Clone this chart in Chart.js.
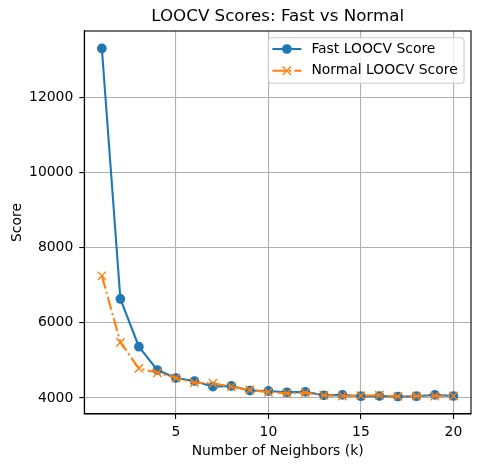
<!DOCTYPE html>
<html>
<head>
<meta charset="utf-8">
<script src="https://cdn.jsdelivr.net/npm/chart.js@4"></script>
<style>
  html, body { margin: 0; padding: 0; background: #fff; }
  canvas { display: block; }
</style>
</head>
<body>
<canvas id="chart" width="481" height="468"></canvas>
<script>
// values
const neighbors = [1, 2, 3, 4, 5, 6, 7, 8, 9, 10, 11, 12, 13, 14, 15, 16, 17, 18, 19, 20];
const fastScores = [13310, 6636, 5364, 4742, 4530, 4450, 4300, 4318, 4193, 4185,
                    4150, 4160, 4071, 4080, 4045, 4050, 4035, 4045, 4080, 4050];
const normalScores = [7253, 5478, 4787, 4670, 4530, 4405, 4390, 4300, 4212, 4150,
                      4124, 4140, 4071, 4050, 4062, 4070, 4040, 4050, 4050, 4050];
const xTicks = [5, 10, 15, 20];
const yTicks = [4000, 6000, 8000, 10000, 12000];

const titleText = 'LOOCV Scores: Fast vs Normal';
const fontFamily = '"DejaVu Sans", sans-serif';
const blue = '#1f77b4';
const orange = '#ff7f0e';

function toPoints(ys) {
  return neighbors.map((k, i) => ({ x: k, y: ys[i] }));
}

// title centred over the axes, plus top/right spines
const framePlugin = {
  id: 'frame',
  afterDatasetsDraw(chart) {
    const { ctx, chartArea: a } = chart;
    ctx.save();
    ctx.strokeStyle = '#000';
    ctx.lineWidth = 1.1;
    ctx.strokeRect(a.left, a.top, a.right - a.left, a.bottom - a.top);
    ctx.fillStyle = '#000';
    ctx.font = '16.7px ' + fontFamily;
    ctx.textAlign = 'center';
    ctx.textBaseline = 'middle';
    ctx.fillText(titleText, (a.left + a.right) / 2, 16.5);
    ctx.restore();
  }
};

// legend drawn inside the plot, upper right
const insideLegend = {
  id: 'insideLegend',
  afterDraw(chart) {
    const { ctx, chartArea: a } = chart;
    const sets = chart.data.datasets;
    ctx.save();
    ctx.font = '13.9px ' + fontFamily;
    const maxW = Math.max(...sets.map(d => ctx.measureText(d.label).width));
    const right = a.right - 7;
    const top = a.top + 6.7;
    const textX = right - 6.3 - maxW;
    const left = textX - 43;
    const bottom = top + 45.5;

    ctx.beginPath();
    ctx.roundRect(left, top, right - left, bottom - top, 2.8);
    ctx.fillStyle = 'rgba(255,255,255,0.8)';
    ctx.fill();
    ctx.strokeStyle = '#cccccc';
    ctx.lineWidth = 1.1;
    ctx.stroke();

    sets.forEach((d, i) => {
      const y = top + 11.3 + i * 21.7;
      const x0 = textX - 39, x1 = textX - 10;
      ctx.beginPath();
      ctx.setLineDash(d.borderDash || []);
      ctx.strokeStyle = d.borderColor;
      ctx.lineWidth = d.borderWidth;
      ctx.moveTo(x0, y);
      ctx.lineTo(x1, y);
      ctx.stroke();
      ctx.setLineDash([]);
      const cx = (x0 + x1) / 2;
      if (d.pointStyle === 'crossRot') {
        const h = 4.2;
        ctx.beginPath();
        ctx.lineWidth = d.pointBorderWidth;
        ctx.moveTo(cx - h, y - h); ctx.lineTo(cx + h, y + h);
        ctx.moveTo(cx - h, y + h); ctx.lineTo(cx + h, y - h);
        ctx.stroke();
      } else {
        ctx.beginPath();
        ctx.arc(cx, y, 4.8, 0, Math.PI * 2);
        ctx.fillStyle = d.pointBackgroundColor;
        ctx.fill();
      }
      ctx.fillStyle = '#000';
      ctx.textAlign = 'left';
      ctx.textBaseline = 'middle';
      ctx.fillText(d.label, textX, y);
    });
    ctx.restore();
  }
};

new Chart(document.getElementById('chart'), {
  type: 'line',
  data: {
    datasets: [
      {
        label: 'Fast LOOCV Score',
        data: toPoints(fastScores),
        borderColor: blue,
        backgroundColor: blue,
        borderWidth: 2.1,
        pointStyle: 'circle',
        pointRadius: 4.15,
        pointBorderWidth: 1.4,
        pointBackgroundColor: blue,
        pointBorderColor: blue,
        tension: 0,
        order: 1
      },
      {
        label: 'Normal LOOCV Score',
        data: toPoints(normalScores),
        borderColor: orange,
        backgroundColor: orange,
        borderWidth: 2.1,
        borderDash: [13.3, 3.3, 2.1, 3.3],
        pointStyle: 'crossRot',
        pointRadius: 5.9,
        pointBorderWidth: 1.4,
        pointBackgroundColor: orange,
        pointBorderColor: orange,
        tension: 0,
        order: 0
      }
    ]
  },
  options: {
    responsive: false,
    animation: false,
    layout: { padding: { top: 31, right: 10, bottom: 0, left: 0 } },
    plugins: {
      legend: { display: false },
      title: { display: false },
      tooltip: { enabled: false }
    },
    scales: {
      x: {
        type: 'linear',
        min: 0.05,
        max: 20.95,
        afterBuildTicks: s => { s.ticks = xTicks.map(v => ({ value: v })); },
        afterFit: s => { s.height = 54; },
        grid: { color: '#b0b0b0', lineWidth: 1.1, tickColor: '#000', tickWidth: 1.1, tickLength: 5 },
        border: { color: '#000', width: 1.1 },
        ticks: {
          padding: 5,
          color: '#000',
          font: { family: fontFamily, size: 13.9 },
          maxRotation: 0,
          callback: v => String(v)
        },
        title: {
          display: true,
          text: 'Number of Neighbors (k)',
          color: '#000',
          font: { family: fontFamily, size: 13.9 },
          padding: { top: 0, bottom: 8 }
        }
      },
      y: {
        type: 'linear',
        min: 3571,
        max: 13775,
        afterBuildTicks: s => { s.ticks = yTicks.map(v => ({ value: v })); },
        afterFit: s => { s.width = 84.3; },
        grid: { color: '#b0b0b0', lineWidth: 1.1, tickColor: '#000', tickWidth: 1.1, tickLength: 5 },
        border: { color: '#000', width: 1.1 },
        ticks: {
          padding: 6,
          color: '#000',
          font: { family: fontFamily, size: 13.9 },
          callback: v => String(v)
        },
        title: {
          display: true,
          text: 'Score',
          color: '#000',
          font: { family: fontFamily, size: 13.9 },
          padding: { top: 9, bottom: 0 }
        }
      }
    }
  },
  plugins: [framePlugin, insideLegend]
});
</script>
</body>
</html>
